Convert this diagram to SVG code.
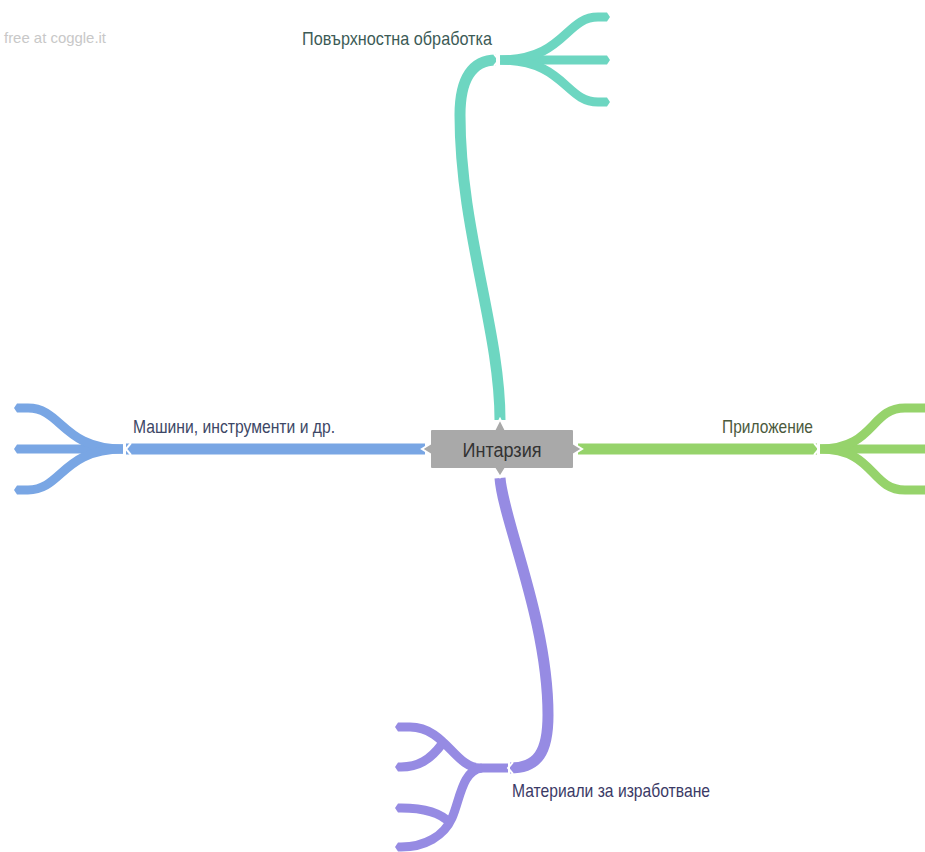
<svg xmlns="http://www.w3.org/2000/svg" width="925" height="852" viewBox="0 0 925 852">
<style>
.br{fill:none;stroke-linecap:butt;stroke-linejoin:round}
.trunk{stroke-width:11}
.leaf{stroke-width:9}
.teal{stroke:#6dd6c1}
.blue{stroke:#79a6e4}
.green{stroke:#96d36b}
.purple{stroke:#968be3}
.notch{fill:none;stroke:#fff;stroke-width:2}
.lbl{font-family:"Liberation Sans",Arial,sans-serif;font-size:18.5px}
</style>
<defs>
<marker id="tTeal" markerUnits="userSpaceOnUse" markerWidth="8" markerHeight="10" refX="0" refY="5" orient="auto" viewBox="0 0 8 10"><path d="M0,0.5 L3,0.5 L6,5 L3,9.5 L0,9.5 Z" fill="#6dd6c1"/></marker>
<marker id="tBlue" markerUnits="userSpaceOnUse" markerWidth="8" markerHeight="10" refX="0" refY="5" orient="auto" viewBox="0 0 8 10"><path d="M0,0.5 L3,0.5 L6,5 L3,9.5 L0,9.5 Z" fill="#79a6e4"/></marker>
<marker id="tPurple" markerUnits="userSpaceOnUse" markerWidth="8" markerHeight="10" refX="0" refY="5" orient="auto" viewBox="0 0 8 10"><path d="M0,0.5 L3,0.5 L6,5 L3,9.5 L0,9.5 Z" fill="#968be3"/></marker>
</defs>
<rect width="925" height="852" fill="#fff"/>
<text x="4" y="43" font-family="Liberation Sans,Arial,sans-serif" font-size="14.5" fill="#c8c8c8" textLength="102" lengthAdjust="spacingAndGlyphs">free at coggle.it</text>

<g id="connectors">
  <!-- teal -->
  <path class="br trunk teal" d="M500,420 C500,330 460,230 460,115 C460,78 473,60 496,60"/>
  <path class="br leaf teal" d="M500,60 L604,60" marker-end="url(#tTeal)"/>
  <path class="br leaf teal" d="M500,60 C565,60 565,17 598,17 L604,17" marker-end="url(#tTeal)"/>
  <path class="br leaf teal" d="M500,60 C565,60 565,102 598,102 L604,102" marker-end="url(#tTeal)"/>
  <polyline class="notch" points="494,54 499,60 494,66"/>
  <!-- blue -->
  <path class="br trunk blue" d="M425,449 L126,449"/>
  <path class="br leaf blue" d="M123,449 L20,449" marker-end="url(#tBlue)"/>
  <path class="br leaf blue" d="M123,449 C62,449 62,408 28,408 L20,408" marker-end="url(#tBlue)"/>
  <path class="br leaf blue" d="M123,449 C62,449 62,490 28,490 L20,490" marker-end="url(#tBlue)"/>
  <polyline class="notch" points="131,443 126,449 131,455"/>
  <!-- green -->
  <path class="br trunk green" d="M578,449 L817,449"/>
  <path class="br leaf green" d="M820,449 L935,449"/>
  <path class="br leaf green" d="M820,449 C875,449 870,408 905,408 L935,408"/>
  <path class="br leaf green" d="M820,449 C875,449 870,490 905,490 L935,490"/>
  <polyline class="notch" points="814,443 819,449 814,455"/>
  <!-- purple -->
  <path class="br trunk purple" d="M500,478 C503,520 548,620 548,715 C548,752 538,768 510,768"/>
  <path class="br leaf purple" d="M508,768 L480,768 C455,768 445,727 410,727 L401,727" marker-end="url(#tPurple)"/>
  <path class="br leaf purple" d="M442,744 C430,760 418,767 401,767" marker-end="url(#tPurple)"/>
  <path class="br leaf purple" d="M482,768 C462,770 460,800 452,818 C444,836 425,847 401,847" marker-end="url(#tPurple)"/>
  <path class="br leaf purple" d="M450,823 C440,812 420,808 401,808" marker-end="url(#tPurple)"/>
  <polyline class="notch" points="513,762 508,768 513,774"/>
</g>

<g id="node-root">
  <path d="M430,431 Q430,429 432,429 L495,429 L500,419 L505,429 L572,429 Q574,429 574,431 L574,444 L582,449 L574,454 L574,467 Q574,469 572,469 L505,469 L500,477 L495,469 L432,469 Q430,469 430,467 L430,454 L422,449 L430,444 Z" fill="#a9a9a9" stroke="#fff" stroke-width="2"/>
  <text x="502" y="457" text-anchor="middle" font-family="Liberation Sans,Arial,sans-serif" font-size="20" fill="#333" textLength="79" lengthAdjust="spacingAndGlyphs">Интарзия</text>
</g>
<g id="node-surface">
  <text class="lbl" x="302" y="45" fill="#3c5b56" textLength="190" lengthAdjust="spacingAndGlyphs">Повърхностна обработка</text>
</g>
<g id="node-machines">
  <text class="lbl" x="133" y="433" fill="#3d4766" textLength="202" lengthAdjust="spacingAndGlyphs">Машини, инструменти и др.</text>
</g>
<g id="node-application">
  <text class="lbl" x="722" y="433" fill="#4b5a3d" textLength="91" lengthAdjust="spacingAndGlyphs">Приложение</text>
</g>
<g id="node-materials">
  <text class="lbl" x="512" y="797" fill="#3b3a66" textLength="198" lengthAdjust="spacingAndGlyphs">Материали за изработване</text>
</g>
</svg>
